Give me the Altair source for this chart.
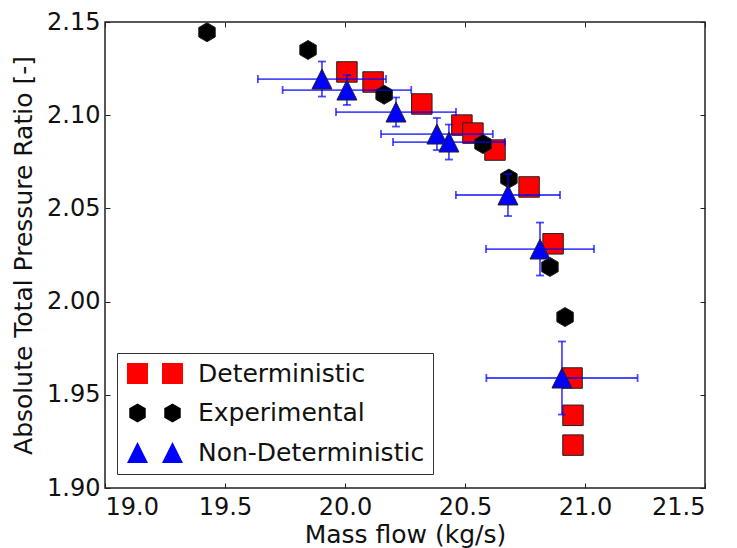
import altair as alt
import pandas as pd

# ---- data ----
det_x = [20.008, 20.117, 20.32, 20.487, 20.533, 20.625, 20.767, 20.867, 20.946, 20.95, 20.95]
det_y = [2.1232, 2.1178, 2.106, 2.0947, 2.0904, 2.0813, 2.0615, 2.031, 1.959, 1.939, 1.923]

exp_x = [19.425, 19.846, 20.163, 20.575, 20.683, 20.854, 20.917]
exp_y = [2.1445, 2.135, 2.111, 2.0845, 2.066, 2.0186, 1.9917]

nd_x = [19.904, 20.008, 20.2125, 20.383, 20.433, 20.679, 20.8125, 20.904]
nd_y = [2.1194, 2.1135, 2.1017, 2.0899, 2.0856, 2.0572, 2.0282, 1.959]
nd_xerr = [0.267, 0.268, 0.25, 0.233, 0.233, 0.217, 0.225, 0.315]
nd_yerr = [0.0094, 0.008, 0.0078, 0.0086, 0.0094, 0.0113, 0.0142, 0.0196]

series_names = ["Deterministic", "Experimental", "Non-Deterministic"]
series_colors = ["#ff0000", "#000000", "#0000ff"]

x_ticks = [19.0, 19.5, 20.0, 20.5, 21.0, 21.5]
y_ticks = [1.90, 1.95, 2.00, 2.05, 2.10, 2.15]
x_domain = [19.0, 21.5]
y_domain = [1.90, 2.15]

# ---- marker shapes ----
HEX = "M0,-1L0.866,-0.5L0.866,0.5L0,1L-0.866,0.5L-0.866,-0.5Z"
TRI = "M0,-1L1,1L-1,1Z"


def hexpath(cx, h=0.905, w=0.784):
    return (f"M{cx},{-h}L{cx + w},{-h / 2}L{cx + w},{h / 2}L{cx},{h}"
            f"L{cx - w},{h / 2}L{cx - w},{-h / 2}Z")


LEG_SQ = "M-1,-1L1,-1L1,1L-1,1Z M2.333,-1L4.333,-1L4.333,1L2.333,1Z"
LEG_HEX = hexpath(0) + " " + hexpath(3.333)
LEG_TRI = "M0,-1L1,1L-1,1Z M3.333,-1L4.333,1L2.333,1Z"

# ---- tables ----
det = pd.DataFrame({"x": det_x, "y": det_y, "series": series_names[0]})
exp = pd.DataFrame({"x": exp_x, "y": exp_y, "series": series_names[1]})
nd = pd.DataFrame({"x": nd_x, "y": nd_y, "xerr": nd_xerr, "yerr": nd_yerr,
                   "series": series_names[2]})
nd["xlo"] = nd["x"] - nd["xerr"]
nd["xhi"] = nd["x"] + nd["xerr"]
nd["ylo"] = nd["y"] - nd["yerr"]
nd["yhi"] = nd["y"] + nd["yerr"]
allpts = pd.concat([det, exp, nd[["x", "y", "series"]]], ignore_index=True)

xs = alt.Scale(domain=x_domain, nice=False, zero=False)
ys = alt.Scale(domain=y_domain, nice=False, zero=False)

FONT = "DejaVu Sans"
TICK_IN = {"expr": "-5"}

x_bottom = alt.Axis(orient="bottom", values=x_ticks, format=".1f", title="Mass flow (kg/s)",
                    tickSize=TICK_IN, labelPadding=12, titlePadding=3)
y_left = alt.Axis(orient="left", values=y_ticks, format=".2f",
                  title="Absolute Total Pressure Ratio [-]",
                  tickSize=TICK_IN, labelPadding=10, titlePadding=10)
x_top = alt.Axis(orient="top", values=x_ticks, labels=False, title=None, tickSize=TICK_IN)
y_right = alt.Axis(orient="right", values=y_ticks, labels=False, title=None, tickSize=TICK_IN)

legend = alt.Legend(
    title=None, orient="none", legendX=12, legendY=331, direction="vertical",
    labelFont=FONT, labelFontSize=25, labelColor="#111", labelLimit=500,
    symbolSize=441, symbolStrokeColor="#222", symbolStrokeWidth=1, symbolOpacity=1,
    padding=8, rowPadding=13.5, labelOffset=48,
    strokeColor="#333", fillColor="white",
)

legend_layer = alt.Chart(allpts).mark_point(filled=True, opacity=0, size=441).encode(
    x=alt.X("x:Q", scale=xs, axis=x_bottom),
    y=alt.Y("y:Q", scale=ys, axis=y_left),
    color=alt.Color("series:N", scale=alt.Scale(domain=series_names, range=series_colors),
                    legend=legend),
    shape=alt.Shape("series:N", scale=alt.Scale(domain=series_names,
                                                range=[LEG_SQ, LEG_HEX, LEG_TRI]),
                    legend=legend),
)

squares = alt.Chart(det).mark_point(
    shape="square", filled=True, fill=series_colors[0], stroke="#222", strokeWidth=1,
    size=420, opacity=1,
).encode(
    x=alt.X("x:Q", scale=xs, axis=x_top),
    y=alt.Y("y:Q", scale=ys, axis=y_right),
)

hexes = alt.Chart(exp).mark_point(
    shape=HEX, filled=True, fill=series_colors[1], stroke="#222", strokeWidth=1,
    size=361, opacity=1,
).encode(
    x=alt.X("x:Q", scale=xs, axis=None),
    y=alt.Y("y:Q", scale=ys, axis=None),
)

EB = dict(color="#0000ff", opacity=0.7)
EW = 1.8
hbars = alt.Chart(nd).mark_rule(strokeWidth=EW, **EB).encode(
    x=alt.X("xlo:Q", scale=xs, axis=None), x2="xhi:Q",
    y=alt.Y("y:Q", scale=ys, axis=None),
)
vbars = alt.Chart(nd).mark_rule(strokeWidth=EW, **EB).encode(
    x=alt.X("x:Q", scale=xs, axis=None),
    y=alt.Y("ylo:Q", scale=ys, axis=None), y2="yhi:Q",
)
caps_l = alt.Chart(nd).mark_tick(orient="vertical", size=8, thickness=EW, **EB).encode(
    x=alt.X("xlo:Q", scale=xs, axis=None), y=alt.Y("y:Q", scale=ys, axis=None))
caps_r = alt.Chart(nd).mark_tick(orient="vertical", size=8, thickness=EW, **EB).encode(
    x=alt.X("xhi:Q", scale=xs, axis=None), y=alt.Y("y:Q", scale=ys, axis=None))
caps_b = alt.Chart(nd).mark_tick(orient="horizontal", size=8, thickness=EW, **EB).encode(
    x=alt.X("x:Q", scale=xs, axis=None), y=alt.Y("ylo:Q", scale=ys, axis=None))
caps_t = alt.Chart(nd).mark_tick(orient="horizontal", size=8, thickness=EW, **EB).encode(
    x=alt.X("x:Q", scale=xs, axis=None), y=alt.Y("yhi:Q", scale=ys, axis=None))

tris = alt.Chart(nd).mark_point(
    shape=TRI, filled=True, fill=series_colors[2], stroke="#222", strokeWidth=1,
    size=400, opacity=1,
).encode(
    x=alt.X("x:Q", scale=xs, axis=None),
    y=alt.Y("y:Q", scale=ys, axis=None),
)

chart = alt.layer(
    legend_layer, squares, hexes, hbars, vbars, caps_l, caps_r, caps_b, caps_t, tris
).resolve_axis(x="independent", y="independent").properties(
    width=600, height=466,
    autosize=alt.AutoSizeParams(type="none"),
    padding={"left": 97, "top": 14, "right": 24, "bottom": 60},
    background="white",
).configure_view(
    stroke="#222", strokeWidth=1.5,
).configure_axis(
    domain=False, grid=False, ticks=True, tickColor="#222", tickWidth=1,
    labelFont=FONT, labelFontSize=24, labelColor="#111",
    titleFont=FONT, titleFontSize=25, titleFontWeight="normal", titleColor="#111",
)

chart.save("out.html", embed_options={"renderer": "svg", "actions": False})
